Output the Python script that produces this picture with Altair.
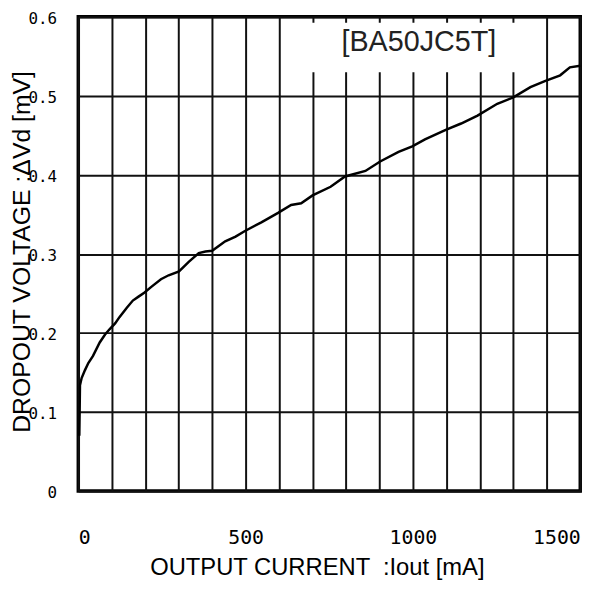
import altair as alt
import pandas as pd

# Output current (mA) and dropout voltage values
current = [3, 4, 5, 10, 20, 30, 44, 64, 80, 94, 110, 123, 145, 163, 180, 197,
           220, 247, 270, 301, 330, 360, 380, 400, 439, 470, 498, 547, 597,
           636, 666, 700, 754, 797, 858, 902, 957, 998, 1036, 1098, 1144,
           1193, 1252, 1300, 1351, 1396, 1440, 1469, 1500]
voltage = [0.07, 0.10, 0.134, 0.143, 0.153, 0.162, 0.171, 0.188, 0.198, 0.205,
           0.212, 0.22, 0.232, 0.241, 0.246, 0.251, 0.259, 0.268, 0.273, 0.278,
           0.29, 0.301, 0.303, 0.304, 0.316, 0.322, 0.329, 0.340, 0.352, 0.362,
           0.364, 0.374, 0.385, 0.398, 0.405, 0.417, 0.429, 0.436, 0.445, 0.457,
           0.465, 0.475, 0.490, 0.498, 0.511, 0.519, 0.526, 0.536, 0.538]
x_grid = list(range(0, 1501, 100))
y_grid = [0, 0.1, 0.2, 0.3, 0.4, 0.5, 0.6]
label_text = ["[BA50JC5T]"]

df = pd.DataFrame({"current": current, "voltage": voltage})
lab = pd.DataFrame({"label": label_text})

line = alt.Chart(df).mark_line(color="black", strokeWidth=2.5).encode(
    x=alt.X("current:Q",
            scale=alt.Scale(domain=[0, 1500], nice=False, zero=False),
            axis=alt.Axis(values=x_grid, format="d",
                          labelExpr="datum.value % 500 == 0 ? datum.label : ''",
                          labelFont="DejaVu Sans Mono",
                          labelFontSize=20, labelPadding=37, labelColor="black",
                          title="OUTPUT CURRENT \u00a0:Iout [mA]",
                          titleFont="Liberation Sans", titleFontSize=24,
                          titleFontWeight="normal", titleColor="black",
                          titleX=241, titleY=84, titleBaseline="alphabetic",
                          titleAlign="center")),
    y=alt.Y("voltage:Q",
            scale=alt.Scale(domain=[0, 0.6], nice=False),
            axis=alt.Axis(values=y_grid,
                          labelExpr="datum.value == 0 ? '0' : format(datum.value, '.1f')",
                          labelFont="DejaVu Sans Mono",
                          labelFontSize=16, labelPadding=22, labelOffset=2,
                          labelColor="black",
                          title="DROPOUT VOLTAGE :ΔVd [mV]",
                          titleFont="Liberation Sans", titleFontSize=25,
                          titleFontWeight="normal", titleColor="black",
                          titleAngle=-90, titleX=-57, titleY=237,
                          titleAlign="center", titleBaseline="middle")),
)

box = alt.Chart(lab).mark_rect(color="white").encode(
    x=alt.value(221), x2=alt.value(461), y=alt.value(6), y2=alt.value(56)
)

txt = alt.Chart(lab).mark_text(font="Liberation Sans", fontSize=29,
                                color="#222", baseline="middle",
                                align="center").encode(
    text="label:N", x=alt.value(344), y=alt.value(26)
)

chart = alt.layer(line, box, txt).properties(
    width=507, height=479,
    autosize=alt.AutoSizeParams(type="none"),
    padding={"left": 71, "top": 6, "right": 26, "bottom": 92},
    background="white",
).configure_view(
    stroke="black", strokeWidth=3.5
).configure_axis(
    domain=False, ticks=False, grid=True, gridColor="#111",
    gridWidth=2, gridOpacity=1
)

chart.save("out.html", embed_options={"renderer": "svg", "actions": False})
